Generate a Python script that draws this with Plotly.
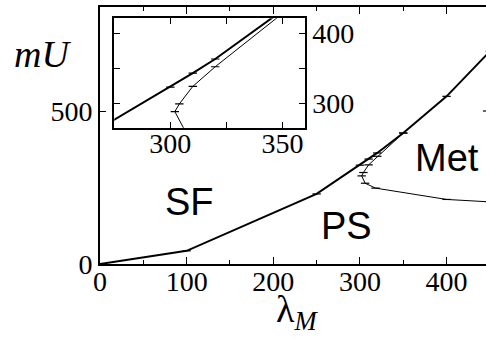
import plotly.graph_objects as go

# Data
upper_x = [0, 100, 250, 300, 310, 320, 350, 400, 450]
upper_y = [0, 43, 229, 323, 343, 363, 428, 548, 695]
lower_x = [350, 320, 310, 304, 302, 306, 318, 400, 450]
lower_y = [428, 352, 324, 299, 288, 264, 248, 211, 203]

main_xticks = [0, 100, 200, 300, 400]
main_yticks = [0, 500]
inset_xticks = [300, 350]
inset_yticks = [300, 400]

region_labels = ["SF", "PS", "Met"]
region_x = [103, 285, 400]
region_y = [203, 124, 346]

SERIF = "Liberation Serif, Times New Roman, Times, serif"
SANS = "Liberation Sans, Arial, sans-serif"

marker_style = dict(symbol="line-ew", size=6, color="black",
                    line=dict(color="black", width=1.2))

fig = go.Figure()
# main plot
fig.add_trace(go.Scatter(x=upper_x, y=upper_y, mode="lines+markers",
                         line=dict(color="black", width=2),
                         marker=marker_style,
                         xaxis="x", yaxis="y", showlegend=False))
fig.add_trace(go.Scatter(x=lower_x, y=lower_y, mode="lines+markers",
                         line=dict(color="black", width=1),
                         marker=marker_style,
                         xaxis="x", yaxis="y", showlegend=False))
# inset
fig.add_trace(go.Scatter(x=upper_x, y=upper_y, mode="lines+markers",
                         line=dict(color="black", width=2),
                         marker=marker_style,
                         xaxis="x2", yaxis="y2", showlegend=False))
fig.add_trace(go.Scatter(x=lower_x, y=lower_y, mode="lines+markers",
                         line=dict(color="black", width=1),
                         marker=marker_style,
                         xaxis="x2", yaxis="y2", showlegend=False))

tickfont = dict(family=SERIF, size=28, color="black")

fig.update_layout(
    width=486, height=341,
    font=dict(family=SERIF, color="black"),
    margin=dict(l=100, r=0, t=7, b=77, autoexpand=False),
    paper_bgcolor="white", plot_bgcolor="white",
    xaxis=dict(domain=[0, 1], range=[0, 445.5], tickvals=main_xticks,
               ticks="inside", ticklen=7, tickwidth=1.2, tickcolor="black",
               minor=dict(dtick=50, tick0=0, ticks="inside", ticklen=4,
                          tickcolor="black", tickwidth=1.2, showgrid=False),
               showline=True, linewidth=2, linecolor="black", mirror="allticks",
               showgrid=False, zeroline=False, tickfont=tickfont, automargin=False,
               ticklabelstandoff=-9),
    yaxis=dict(domain=[0, 1], range=[0, 840], tickvals=main_yticks,
               ticks="inside", ticklen=6, tickwidth=1.2, tickcolor="black",
               showline=True, linewidth=2, linecolor="black", mirror=False,
               showgrid=False, zeroline=False, tickfont=tickfont, automargin=False),
    xaxis2=dict(domain=[0.037, 0.531], anchor="y2", range=[275, 360],
                tickvals=inset_xticks, ticks="inside", ticklen=6, tickwidth=1.2,
                tickcolor="black",
                minor=dict(dtick=25, tick0=0, ticks="inside", ticklen=6,
                           tickcolor="black", tickwidth=1.2, showgrid=False),
                showline=True, linewidth=1.5, linecolor="black", mirror="allticks",
                showgrid=False, zeroline=False, tickfont=tickfont, automargin=False,
                ticklabelstandoff=-10),
    yaxis2=dict(domain=[0.530, 0.956], anchor="x2", side="right", range=[265, 421],
                tickvals=inset_yticks, ticks="inside", ticklen=6, tickwidth=1.2,
                tickcolor="black",
                minor=dict(dtick=50, tick0=0, ticks="inside", ticklen=6,
                           tickcolor="black", tickwidth=1.2, showgrid=False),
                showline=True, linewidth=1.5, linecolor="black", mirror="allticks",
                showgrid=False, zeroline=False, tickfont=tickfont, automargin=False),
)

annotations = []
for txt, x, y in zip(region_labels, region_x, region_y):
    annotations.append(dict(text=txt, x=x, y=y, xref="x", yref="y",
                            showarrow=False, xanchor="center", yanchor="middle",
                            font=dict(family=SANS, size=38, color="black")))
annotations.append(dict(text="<i>mU</i>", x=-0.150, y=0.817, xref="paper",
                        yref="paper", showarrow=False,
                        xanchor="center", yanchor="middle",
                        font=dict(family=SERIF, size=38, color="black")))
annotations.append(dict(text="λ<sub><i>M</i></sub>", x=0.51, y=-0.188,
                        xref="paper", yref="paper", showarrow=False,
                        xanchor="center", yanchor="middle",
                        font=dict(family=SERIF, size=38, color="black")))
fig.update_layout(annotations=annotations)

# right-side mirrored tick of the main y axis at 500
fig.add_shape(type="line", xref="paper", yref="y", x0=0.992, x1=1.0,
              y0=main_yticks[1], y1=main_yticks[1],
              line=dict(color="black", width=1.2))

fig.write_html("out.html", config={"displayModeBar": False},
               post_script="document.body.style.margin='0';"
                           "document.body.style.overflow='hidden';")
